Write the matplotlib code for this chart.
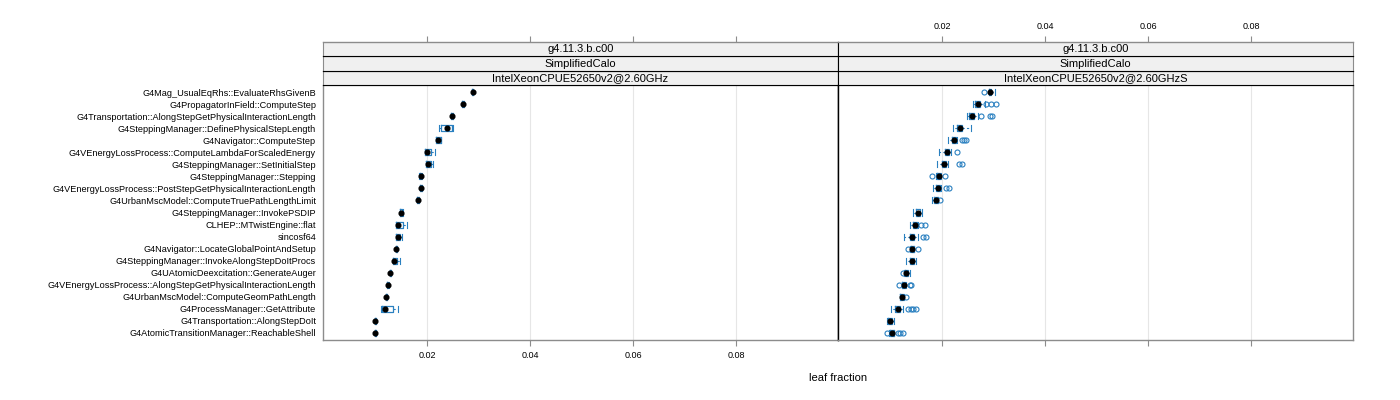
import matplotlib
matplotlib.use("Agg")
import matplotlib.pyplot as plt

plt.rcParams['font.family'] = ['Liberation Sans', 'DejaVu Sans']

functions = [
    "G4Mag_UsualEqRhs::EvaluateRhsGivenB",
    "G4PropagatorInField::ComputeStep",
    "G4Transportation::AlongStepGetPhysicalInteractionLength",
    "G4SteppingManager::DefinePhysicalStepLength",
    "G4Navigator::ComputeStep",
    "G4VEnergyLossProcess::ComputeLambdaForScaledEnergy",
    "G4SteppingManager::SetInitialStep",
    "G4SteppingManager::Stepping",
    "G4VEnergyLossProcess::PostStepGetPhysicalInteractionLength",
    "G4UrbanMscModel::ComputeTruePathLengthLimit",
    "G4SteppingManager::InvokePSDIP",
    "CLHEP::MTwistEngine::flat",
    "sincosf64",
    "G4Navigator::LocateGlobalPointAndSetup",
    "G4SteppingManager::InvokeAlongStepDoItProcs",
    "G4UAtomicDeexcitation::GenerateAuger",
    "G4VEnergyLossProcess::AlongStepGetPhysicalInteractionLength",
    "G4UrbanMscModel::ComputeGeomPathLength",
    "G4ProcessManager::GetAttribute",
    "G4Transportation::AlongStepDoIt",
    "G4AtomicTransitionManager::ReachableShell",
]

strip_release = "g4.11.3.b.c00"
strip_app = "SimplifiedCalo"
platforms = ["IntelXeonCPUE52650v2@2.60GHz", "IntelXeonCPUE52650v2@2.60GHzS"]

# left panel (2.60GHz)
a_med = [0.0289, 0.0270, 0.0249, 0.0239, 0.0222, 0.0200, 0.0201, 0.0188, 0.0189, 0.0183, 0.0150,
         0.0144, 0.0143, 0.0140, 0.0135, 0.0129, 0.0124, 0.0121, 0.0119, 0.0099, 0.0099]
a_q1 = [0.0288, 0.0268, 0.0247, 0.0228, 0.0218, 0.0196, 0.0198, 0.0186, 0.0187, 0.0181, 0.0148,
        0.0139, 0.0139, 0.0139, 0.0133, 0.0128, 0.0123, 0.0120, 0.0113, 0.0098, 0.0098]
a_q3 = [0.0290, 0.0271, 0.0250, 0.0249, 0.0227, 0.0208, 0.0208, 0.0189, 0.0190, 0.0184, 0.0152,
        0.0153, 0.0148, 0.0141, 0.0141, 0.0130, 0.0125, 0.0122, 0.0133, 0.0100, 0.0100]
a_lo = [0.0288, 0.0268, 0.0246, 0.0223, 0.0217, 0.0196, 0.0198, 0.0185, 0.0187, 0.0180, 0.0148,
        0.0139, 0.0139, 0.0139, 0.0133, 0.0128, 0.0123, 0.0120, 0.0111, 0.0098, 0.0098]
a_hi = [0.0290, 0.0271, 0.0251, 0.0250, 0.0228, 0.0215, 0.0212, 0.0190, 0.0190, 0.0185, 0.0153,
        0.0161, 0.0152, 0.0142, 0.0148, 0.0131, 0.0126, 0.0122, 0.0143, 0.0100, 0.0100]
a_out = [[] for _ in functions]

# right panel (2.60GHzS)
b_med = [0.0293, 0.0269, 0.0258, 0.0234, 0.0224, 0.0209, 0.0203, 0.0194, 0.0192, 0.0188, 0.0153,
         0.0147, 0.0141, 0.0142, 0.0141, 0.0131, 0.0126, 0.0122, 0.0114, 0.0099, 0.0102]
b_q1 = [0.0291, 0.0264, 0.0253, 0.0229, 0.0220, 0.0205, 0.0199, 0.0190, 0.0188, 0.0184, 0.0149,
        0.0143, 0.0137, 0.0139, 0.0137, 0.0128, 0.0123, 0.0119, 0.0109, 0.0096, 0.0098]
b_q3 = [0.0295, 0.0274, 0.0262, 0.0239, 0.0228, 0.0213, 0.0207, 0.0197, 0.0196, 0.0192, 0.0157,
        0.0151, 0.0146, 0.0145, 0.0145, 0.0134, 0.0129, 0.0125, 0.0119, 0.0102, 0.0106]
b_lo = [0.0291, 0.0260, 0.0248, 0.0222, 0.0212, 0.0194, 0.0191, 0.0189, 0.0183, 0.0180, 0.0144,
        0.0138, 0.0127, 0.0137, 0.0130, 0.0127, 0.0122, 0.0118, 0.0100, 0.0093, 0.0097]
b_hi = [0.0302, 0.0283, 0.0270, 0.0256, 0.0230, 0.0218, 0.0212, 0.0198, 0.0198, 0.0193, 0.0162,
        0.0154, 0.0153, 0.0146, 0.0149, 0.0138, 0.0130, 0.0127, 0.0124, 0.0106, 0.0107]
b_out = [[0.0282], [0.0285, 0.0295, 0.0305], [0.0276, 0.0293, 0.0297], [], [0.0239, 0.0243, 0.0247],
         [0.0229], [0.0232, 0.0238], [0.0181, 0.0206], [0.0208, 0.0213], [0.0197], [],
         [0.0159, 0.0166], [0.0163, 0.0169], [0.0133, 0.0153], [], [0.0125],
         [0.0116, 0.0137, 0.0140], [0.0130], [0.0133, 0.0139, 0.0144, 0.0150], [],
         [0.0093, 0.0114, 0.0119, 0.0124]]

xticks = [0.02, 0.04, 0.06, 0.08]
xlim = (-0.0002, 0.0998)
blue = "#2a80c0"
frame = "#8c8c8c"

W, H = 1400, 400
fig = plt.figure(figsize=(14, 4), dpi=100)

panels = [(a_med, a_q1, a_q3, a_lo, a_hi, a_out), (b_med, b_q1, b_q3, b_lo, b_hi, b_out)]
n = len(functions)
pos = list(range(1, n + 1))
strip_h = 14.3

for i, (med, q1, q3, lo, hi, out) in enumerate(panels):
    x0 = 323 + i * 515
    ax = fig.add_axes([x0 / W, 60 / H, 515 / W, 255 / H])
    stats = [dict(med=med[k], q1=q1[k], q3=q3[k], whislo=lo[k], whishi=hi[k], fliers=out[k])
             for k in range(n)]
    ax.bxp(stats, positions=pos, widths=0.5, orientation='horizontal',
           boxprops=dict(color=blue, lw=0.9),
           whiskerprops=dict(color=blue, lw=0.8, ls=(0, (2, 2))),
           capprops=dict(color=blue, lw=0.8),
           medianprops=dict(lw=0),
           flierprops=dict(marker='o', mfc='none', mec=blue, ms=3.6, mew=0.8),
           showcaps=True, capwidths=0.5)
    ax.plot(med, pos, 'o', color='black', ms=3.4, zorder=5)
    ax.set_xlim(*xlim)
    ax.set_ylim(n + 0.6, 0.4)
    for t in xticks:
        ax.axvline(t, color='#e6e6e6', lw=0.8, zorder=0)
    ax.set_xticks(xticks)
    ax.tick_params(axis='x', direction='out', length=4, color=frame, labelsize=6.5, pad=4)
    if i == 0:
        ax.set_yticks(pos)
        ax.set_yticklabels(functions, fontsize=6.6)
        ax.tick_params(axis='y', length=0, pad=5)
    else:
        ax.set_yticks([])
        ax.tick_params(axis='x', labelbottom=False)
    for s in ax.spines.values():
        s.set_color(frame)
        s.set_linewidth(1.0)
    ax.spines['top'].set_color('black')
    ax.spines['top'].set_linewidth(0.8)
    if i == 0:
        ax.spines['right'].set_color('black')
    else:
        ax.spines['left'].set_color('black')

    # strips
    for j, label in enumerate([platforms[i], strip_app, strip_release]):
        sax = fig.add_axes([x0 / W, (H - 85 + j * strip_h) / H, 515 / W, strip_h / H])
        sax.set_facecolor('#f0f0f0')
        sax.set_xlim(*xlim)
        sax.set_ylim(0, 1)
        sax.text(0.5, 0.5, label, transform=sax.transAxes, ha='center', va='center', fontsize=8)
        sax.set_yticks([])
        for s in sax.spines.values():
            s.set_color('black')
            s.set_linewidth(0.8)
        sax.spines['left'].set_color(frame)
        sax.spines['right'].set_color(frame)
        if i == 0:
            sax.spines['right'].set_color('black')
        else:
            sax.spines['left'].set_color('black')
        if j == 2:
            sax.spines['top'].set_color(frame)
            sax.spines['top'].set_linewidth(1.0)
            sax.xaxis.tick_top()
            sax.set_xticks(xticks)
            sax.tick_params(axis='x', direction='out', length=4, color=frame, labelsize=6.5, pad=4,
                            labeltop=(i == 1))
        else:
            sax.set_xticks([])

fig.text(838 / W, 1 - 378 / H, "leaf fraction", ha='center', va='center', fontsize=8)

fig.savefig("out.png", dpi=100)
